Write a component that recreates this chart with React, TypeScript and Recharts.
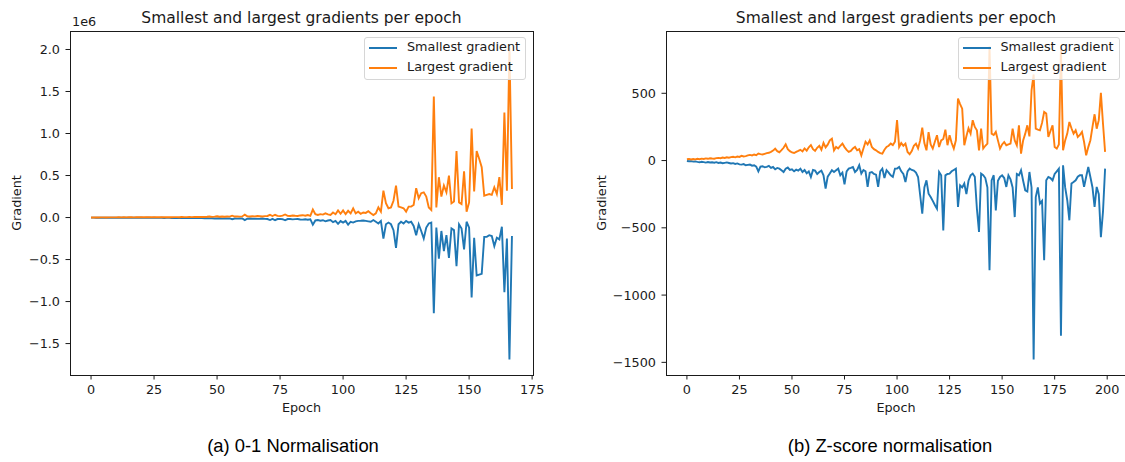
import React from 'react';
import { LineChart, Line, XAxis, YAxis } from 'recharts';

// (a) 0-1 normalisation, values in units of 1e6
const NORM_SMALLEST = [
  -0.001, -0.001, -0.002, -0.001, -0.002, -0.001, -0.002, -0.002, -0.001, -0.002,
  -0.002, -0.003, -0.002, -0.002, -0.003, -0.002, -0.003, -0.003, -0.002, -0.003,
  -0.003, -0.004, -0.003, -0.003, -0.004, -0.003, -0.004, -0.004, -0.003, -0.005,
  -0.004, -0.004, -0.005, -0.004, -0.005, -0.005, -0.004, -0.006, -0.005, -0.005,
  -0.006, -0.005, -0.007, -0.006, -0.007, -0.008, -0.007, -0.01, -0.008, -0.011,
  -0.012, -0.009, -0.013, -0.01, -0.012, -0.011, -0.02, -0.012, -0.013, -0.011,
  -0.012, -0.03, -0.014, -0.012, -0.015, -0.013, -0.016, -0.015, -0.012, -0.016,
  -0.018, -0.03, -0.016, -0.032, -0.018, -0.016, -0.02, -0.033, -0.018, -0.017,
  -0.022, -0.019, -0.017, -0.023, -0.025, -0.02, -0.026, -0.02, -0.085, -0.035,
  -0.03, -0.038, -0.032, -0.045, -0.035, -0.03, -0.055, -0.04, -0.075, -0.042,
  -0.06, -0.04, -0.085, -0.05, -0.06, -0.045, -0.04, -0.038, -0.035, -0.04,
  -0.045, -0.05, -0.03, -0.05, -0.07, -0.04, -0.25, -0.08, -0.06, -0.08,
  -0.15, -0.36, -0.08, -0.05, -0.07, -0.04, -0.06, -0.05, -0.1, -0.21,
  -0.08, -0.16, -0.25, -0.12, -0.07, -0.06, -1.14, -0.12, -0.49, -0.16,
  -0.4, -0.21, -0.48, -0.13, -0.15, -0.58, -0.08, -0.13, -0.38, -0.05,
  -0.12, -0.95, -0.24, -0.69, -0.68, -0.67, -0.23, -0.23, -0.21, -0.22,
  -0.34, -0.24, -0.26, -0.11, -0.89, -0.25, -1.69, -0.22,
];

const NORM_LARGEST = [
  0.001, 0.001, 0.002, 0.001, 0.002, 0.002, 0.001, 0.002, 0.002, 0.002,
  0.002, 0.003, 0.002, 0.003, 0.002, 0.003, 0.003, 0.002, 0.003, 0.003,
  0.003, 0.004, 0.003, 0.004, 0.003, 0.004, 0.004, 0.003, 0.004, 0.005,
  0.004, 0.005, 0.004, 0.005, 0.005, 0.004, 0.006, 0.005, 0.005, 0.006,
  0.005, 0.006, 0.007, 0.006, 0.008, 0.007, 0.009, 0.012, 0.008, 0.011,
  0.015, 0.009, 0.012, 0.01, 0.013, 0.011, 0.022, 0.012, 0.014, 0.011,
  0.013, 0.035, 0.015, 0.012, 0.016, 0.014, 0.018, 0.016, 0.013, 0.017,
  0.019, 0.032, 0.018, 0.033, 0.02, 0.017, 0.022, 0.036, 0.02, 0.018,
  0.024, 0.021, 0.019, 0.025, 0.028, 0.022, 0.03, 0.02, 0.095, 0.04,
  0.03, 0.04, 0.035, 0.05, 0.038, 0.032, 0.06, 0.04, 0.085, 0.045,
  0.085, 0.04, 0.08, 0.05, 0.11, 0.05, 0.07, 0.045, 0.06, 0.055,
  0.075, 0.05, 0.03, 0.05, 0.12, 0.07, 0.32, 0.17, 0.11, 0.12,
  0.2, 0.38, 0.13, 0.12, 0.11, 0.07, 0.13, 0.13, 0.15, 0.35,
  0.23, 0.29, 0.3, 0.25, 0.12, 0.09, 1.44, 0.12, 0.48, 0.25,
  0.38, 0.3, 0.5, 0.17, 0.19, 0.79, 0.18, 0.16, 0.55, 0.07,
  0.18, 1.06, 0.31, 0.79, 0.7, 0.6, 0.26, 0.27, 0.28, 0.27,
  0.36, 0.28, 0.48, 0.15, 1.25, 0.32, 2.03, 0.34,
];

// (b) Z-score normalisation
const Z_SMALLEST = [
  -3, -5, -4, -8, -6, -10, -13, -9, -12, -15,
  -11, -14, -13, -16, -12, -18, -15, -20, -17, -14,
  -18, -22, -19, -25, -21, -28, -30, -26, -35, -32,
  -30, -38, -35, -45, -80, -45, -42, -50, -47, -40,
  -55, -48, -65, -55, -60, -72, -85, -60, -52, -70,
  -65, -80, -68, -75, -60, -85, -70, -95, -80, -122,
  -70, -75, -100, -85, -75, -110, -208, -120, -97, -72,
  -85, -72, -60, -109, -90, -176, -80, -60, -55, -48,
  -85, -70, -35, -97, -70, -80, -196, -90, -85, -100,
  -105, -196, -80, -60, -130, -72, -90, -110, -122, -60,
  -60, -48, -80, -100, -159, -80, -60, -70, -75, -90,
  -122, -258, -395, -200, -147, -246, -271, -300, -330, -358,
  -85, -110, -519, -110, -100, -97, -80, -70, -60, -345,
  -184, -200, -171, -250, -150, -110, -97, -120, -358, -531,
  -97, -109, -130, -200, -816, -147, -109, -370, -150, -122,
  -110, -130, -196, -110, -140, -200, -420, -100, -110, -72,
  -150, -221, -230, -85, -200, -1478, -271, -200, -320, -300,
  -741, -147, -122, -130, -147, -100, -80, -60, -1302, -35,
  -200, -295, -444, -171, -160, -147, -120, -109, -109, -196,
  -120, -48, -122, -200, -345, -196, -250, -569, -380, -60,
];

const Z_LARGEST = [
  10, 12, 8, 11, 9, 13, 10, 14, 12, 16,
  13, 17, 15, 14, 18, 20, 17, 22, 19, 24,
  21, 25, 28, 24, 30, 27, 35, 30, 33, 38,
  42, 38, 45, 40, 52, 48, 45, 50, 55, 58,
  65, 74, 88, 70, 62, 78, 95, 121, 85, 70,
  60, 56, 65, 72, 80, 68, 90, 74, 99, 115,
  85, 72, 95, 110, 80, 131, 98, 118, 151, 163,
  76, 101, 90, 110, 126, 100, 80, 64, 72, 90,
  101, 76, 85, 39, 90, 140, 120, 150, 101, 85,
  76, 64, 55, 51, 80, 101, 110, 126, 115, 140,
  300, 101, 130, 110, 126, 64, 47, 70, 110, 126,
  90, 150, 245, 130, 76, 211, 120, 89, 140, 188,
  101, 150, 160, 230, 114, 188, 130, 89, 151, 461,
  420, 386, 114, 180, 240, 200, 300, 250, 225, 76,
  237, 89, 110, 126, 847, 200, 190, 213, 150, 89,
  120, 138, 114, 120, 126, 237, 150, 114, 262, 52,
  150, 200, 262, 180, 522, 640, 237, 230, 225, 280,
  361, 349, 175, 220, 262, 101, 89, 120, 830, 76,
  150, 200, 287, 240, 200, 225, 175, 190, 213, 138,
  39, 100, 151, 250, 344, 237, 300, 503, 275, 64,
];

const NORM_X_TICKS = [0, 25, 50, 75, 100, 125, 150, 175];
const NORM_Y_TICKS = [-1.5, -1, -0.5, 0, 0.5, 1, 1.5, 2];
const Z_X_TICKS = [0, 25, 50, 75, 100, 125, 150, 175, 200];
const Z_Y_TICKS = [-1500, -1000, -500, 0, 500];

const TITLE = 'Smallest and largest gradients per epoch';
const SERIES_NAMES = ['Smallest gradient', 'Largest gradient'];

const BLUE = '#1f77b4';
const ORANGE = '#ff7f0e';
const INK = '#1a1a1a';
const FONT = "'DejaVu Sans', sans-serif";

const toRows = (smallest: number[], largest: number[]) =>
  smallest.map((s, i) => ({ epoch: i, smallest: s, largest: largest[i] }));

const minus = (s: string) => s.replace('-', '\u2212');

const PLOT_TOP = 31;
const PLOT_BOTTOM = 375;
const PLOT_LEFT = 70;

interface PanelProps {
  left: number;
  width: number;
  marginRight: number;
  rows: { epoch: number; smallest: number; largest: number }[];
  xDomain: [number, number];
  xTicks: number[];
  yDomain: [number, number];
  yTicks: number[];
  yFormat: (v: number) => string;
  yLabelX: number;
  legendLeft: number;
  caption: string;
  captionX: number;
  offsetText?: string;
}

const Legend = ({ left }: { left: number }) => (
  <div
    style={{
      position: 'absolute',
      left,
      top: 37,
      width: 162,
      height: 43,
      boxSizing: 'border-box',
      border: '1px solid #d6d6d6',
      borderRadius: 3,
      background: 'rgba(255,255,255,0.8)',
      fontFamily: FONT,
      fontSize: 12.8,
      color: INK,
    }}
  >
    {SERIES_NAMES.map((name, i) => (
      <div key={name} style={{ position: 'absolute', left: 0, top: 9 + i * 19.5, height: 2, width: '100%' }}>
        <div
          style={{
            position: 'absolute',
            left: 4,
            top: 0,
            width: 28,
            height: 2,
            background: i === 0 ? BLUE : ORANGE,
          }}
        />
        <div style={{ position: 'absolute', left: 42, top: -8, lineHeight: '16px', whiteSpace: 'nowrap' }}>
          {name}
        </div>
      </div>
    ))}
  </div>
);

const Panel = (p: PanelProps) => {
  const plotRight = p.width - p.marginRight;
  const cx = (PLOT_LEFT + plotRight) / 2;
  const cy = (PLOT_TOP + PLOT_BOTTOM) / 2;
  return (
    <div style={{ position: 'absolute', left: p.left, top: 0, width: p.width, height: 462 }}>
      <LineChart
        width={p.width}
        height={462}
        data={p.rows}
        margin={{ top: PLOT_TOP, right: p.marginRight, bottom: 57, left: 0 }}
      >
        <XAxis
          type="number"
          dataKey="epoch"
          domain={p.xDomain}
          ticks={p.xTicks}
          interval={0}
          allowDataOverflow
          axisLine={false}
          tickSize={4.5}
          tickMargin={5.5}
          height={30}
          tick={{ fill: INK, fontSize: 12.8 }}
          tickLine={{ stroke: INK }}
        />
        <YAxis
          type="number"
          domain={p.yDomain}
          ticks={p.yTicks}
          interval={0}
          allowDataOverflow
          axisLine={false}
          tickSize={4.5}
          tickMargin={5.5}
          width={70}
          tickFormatter={p.yFormat}
          tick={{ fill: INK, fontSize: 12.8 }}
          tickLine={{ stroke: INK }}
        />
        <Line
          type="linear"
          dataKey="smallest"
          stroke={BLUE}
          strokeWidth={1.9}
          dot={false}
          isAnimationActive={false}
        />
        <Line
          type="linear"
          dataKey="largest"
          stroke={ORANGE}
          strokeWidth={1.9}
          dot={false}
          isAnimationActive={false}
        />
      </LineChart>
      <svg
        width={p.width}
        height={462}
        overflow="visible"
        style={{ position: 'absolute', left: 0, top: 0, pointerEvents: 'none', fontFamily: FONT, overflow: 'visible' }}
      >
        <rect
          x={PLOT_LEFT + 0.5}
          y={PLOT_TOP + 0.5}
          width={plotRight - PLOT_LEFT}
          height={PLOT_BOTTOM - PLOT_TOP}
          fill="none"
          stroke={INK}
          strokeWidth={1}
        />
        <text x={cx} y={22.5} textAnchor="middle" fontSize={15.5} fill={INK}>
          {TITLE}
        </text>
        {p.offsetText && (
          <text x={72} y={26} fontSize={12.8} fill={INK}>
            {p.offsetText}
          </text>
        )}
        <text x={cx} y={411.5} textAnchor="middle" fontSize={12.8} fill={INK}>
          Epoch
        </text>
        <text
          x={p.yLabelX}
          y={cy}
          textAnchor="middle"
          fontSize={12.8}
          fill={INK}
          transform={`rotate(-90 ${p.yLabelX} ${cy})`}
        >
          Gradient
        </text>
        <text
          x={p.captionX}
          y={452}
          textAnchor="middle"
          fontSize={18.4}
          fill="#000"
          style={{ fontFamily: "'Liberation Sans', Arial, sans-serif" }}
        >
          {p.caption}
        </text>
      </svg>
      <Legend left={p.legendLeft} />
    </div>
  );
};

export default function App() {
  const normRows = toRows(NORM_SMALLEST, NORM_LARGEST);
  const zRows = toRows(Z_SMALLEST, Z_LARGEST);
  return (
    <div
      style={{
        position: 'absolute',
        left: 0,
        top: 0,
        width: 1125,
        height: 462,
        overflow: 'hidden',
        background: '#fff',
        fontFamily: FONT,
      }}
    >
      <Panel
        left={0}
        width={545}
        marginRight={12}
        rows={normRows}
        xDomain={[-8.35, 175.35]}
        xTicks={NORM_X_TICKS}
        yDomain={[-1.874, 2.22]}
        yTicks={NORM_Y_TICKS}
        yFormat={(v) => minus(v.toFixed(1))}
        yLabelX={21}
        legendLeft={364}
        caption="(a) 0-1 Normalisation"
        captionX={293}
        offsetText="1e6"
      />
      <Panel
        left={596}
        width={530}
        marginRight={0}
        rows={zRows}
        xDomain={[-9.95, 208.95]}
        xTicks={Z_X_TICKS}
        yDomain={[-1594, 963]}
        yTicks={Z_Y_TICKS}
        yFormat={(v) => minus(String(v))}
        yLabelX={10}
        legendLeft={361.5}
        caption="(b) Z-score normalisation"
        captionX={294}
      />
    </div>
  );
}
